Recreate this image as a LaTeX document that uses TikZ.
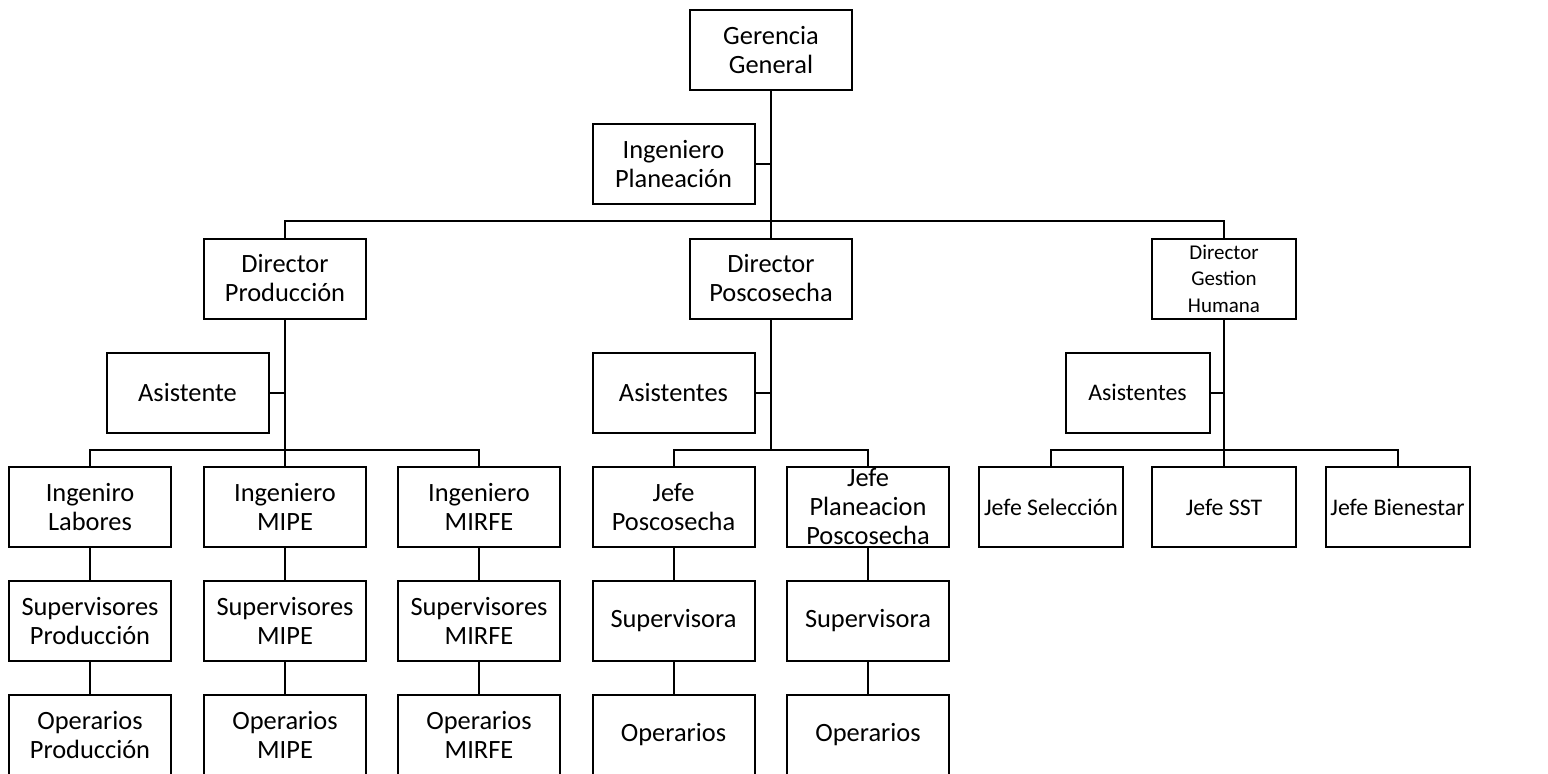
\documentclass[tikz,border=0pt]{standalone}
\usepackage{fontspec}
\setmainfont{Carlito}
\usetikzlibrary{calc}

\begin{document}
\begin{tikzpicture}[x=0.5pt,y=-0.5pt,
    box/.style={draw, line width=1pt, minimum width=81pt, minimum height=40pt,
        inner sep=1pt, align=center, font=\fontsize{13.2}{14.5}\selectfont},
    nbox/.style={box, minimum width=72pt, inner sep=0pt, font=\fontsize{11.9}{14}\selectfont},
    line/.style={line width=1pt}]
    \useasboundingbox (0,0) rectangle (1548,773);
    % top
    \node[box] (ger) at (771,50) {Gerencia\\General};
    \node[box] (ingpl) at (673.5,164) {Ingeniero\\Planeación};
    % directores
    \node[box] (dprod) at (285,278.5) {Director\\Producción};
    \node[box] (dpos) at (771,278.5) {Director\\Poscosecha};
    \node[nbox, font=\fontsize{10.5}{13.3}\selectfont] (dgh) at (1224,278.5) {Director\\Gestion\\Humana};
    % asistentes
    \node[box] (asis1) at (187.5,392.5) {Asistente};
    \node[box] (asis2) at (673.5,392.5) {Asistentes};
    \node[nbox] (asis3) at (1137.5,392.5) {Asistentes};
    % produccion
    \node[box] (ilab) at (90,507) {Ingeniro\\Labores};
    \node[box] (imipe) at (285,507) {Ingeniero\\MIPE};
    \node[box] (imirfe) at (479,507) {Ingeniero\\MIRFE};
    \node[box] (sprod) at (90,621) {Supervisores\\Producción};
    \node[box] (smipe) at (285,621) {Supervisores\\MIPE};
    \node[box] (smirfe) at (479,621) {Supervisores\\MIRFE};
    \node[box] (oprod) at (90,735) {Operarios\\Producción};
    \node[box] (omipe) at (285,735) {Operarios\\MIPE};
    \node[box] (omirfe) at (479,735) {Operarios\\MIRFE};
    % poscosecha
    \node[box] (jpos) at (673.5,507) {Jefe\\Poscosecha};
    \node[box] (jpp) at (868,507) {};
    \node[align=center, inner sep=0pt, font=\fontsize{13.2}{14.5}\selectfont] (jpptxt) at (jpp) {Jefe\\Planeacion\\Poscosecha};
    \node[box] (sup1) at (673.5,621) {Supervisora};
    \node[box] (sup2) at (868,621) {Supervisora};
    \node[box] (op1) at (673.5,735) {Operarios};
    \node[box] (op2) at (868,735) {Operarios};
    % gestion humana
    \node[nbox] (jsel) at (1051,507) {Jefe Selección};
    \node[nbox] (jsst) at (1224,507) {Jefe SST};
    \node[nbox] (jbien) at (1397.5,507) {Jefe Bienestar};

    % lineas
    \coordinate (topbus) at (771,221);
    \coordinate (bus1) at (285,450);
    \coordinate (bus2) at (771,450);
    \coordinate (bus3) at (1224,450);
    \draw[line] (ger) -- (dpos);
    \draw[line] (ingpl.east) -- (ingpl.east -| ger.south);
    \draw[line] (dprod.north) |- (topbus) -| (dgh.north);
    \draw[line] (dprod) -- (imipe);
    \draw[line] (ilab.north) |- (bus1) -| (imirfe.north);
    \draw[line] (dpos.south) -- (bus2);
    \draw[line] (jpos.north) |- (bus2) -| (jpp.north);
    \draw[line] (dgh) -- (jsst);
    \draw[line] (jsel.north) |- (bus3) -| (jbien.north);
    \foreach \a/\b in {asis1/dprod, asis2/dpos, asis3/dgh}
        \draw[line] (\a.east) -- (\a.east -| \b.south);
    \foreach \a/\b in {ilab/sprod, sprod/oprod, imipe/smipe, smipe/omipe,
        imirfe/smirfe, smirfe/omirfe, jpos/sup1, sup1/op1, jpp/sup2, sup2/op2}
        \draw[line] (\a) -- (\b);
\end{tikzpicture}
\end{document}
